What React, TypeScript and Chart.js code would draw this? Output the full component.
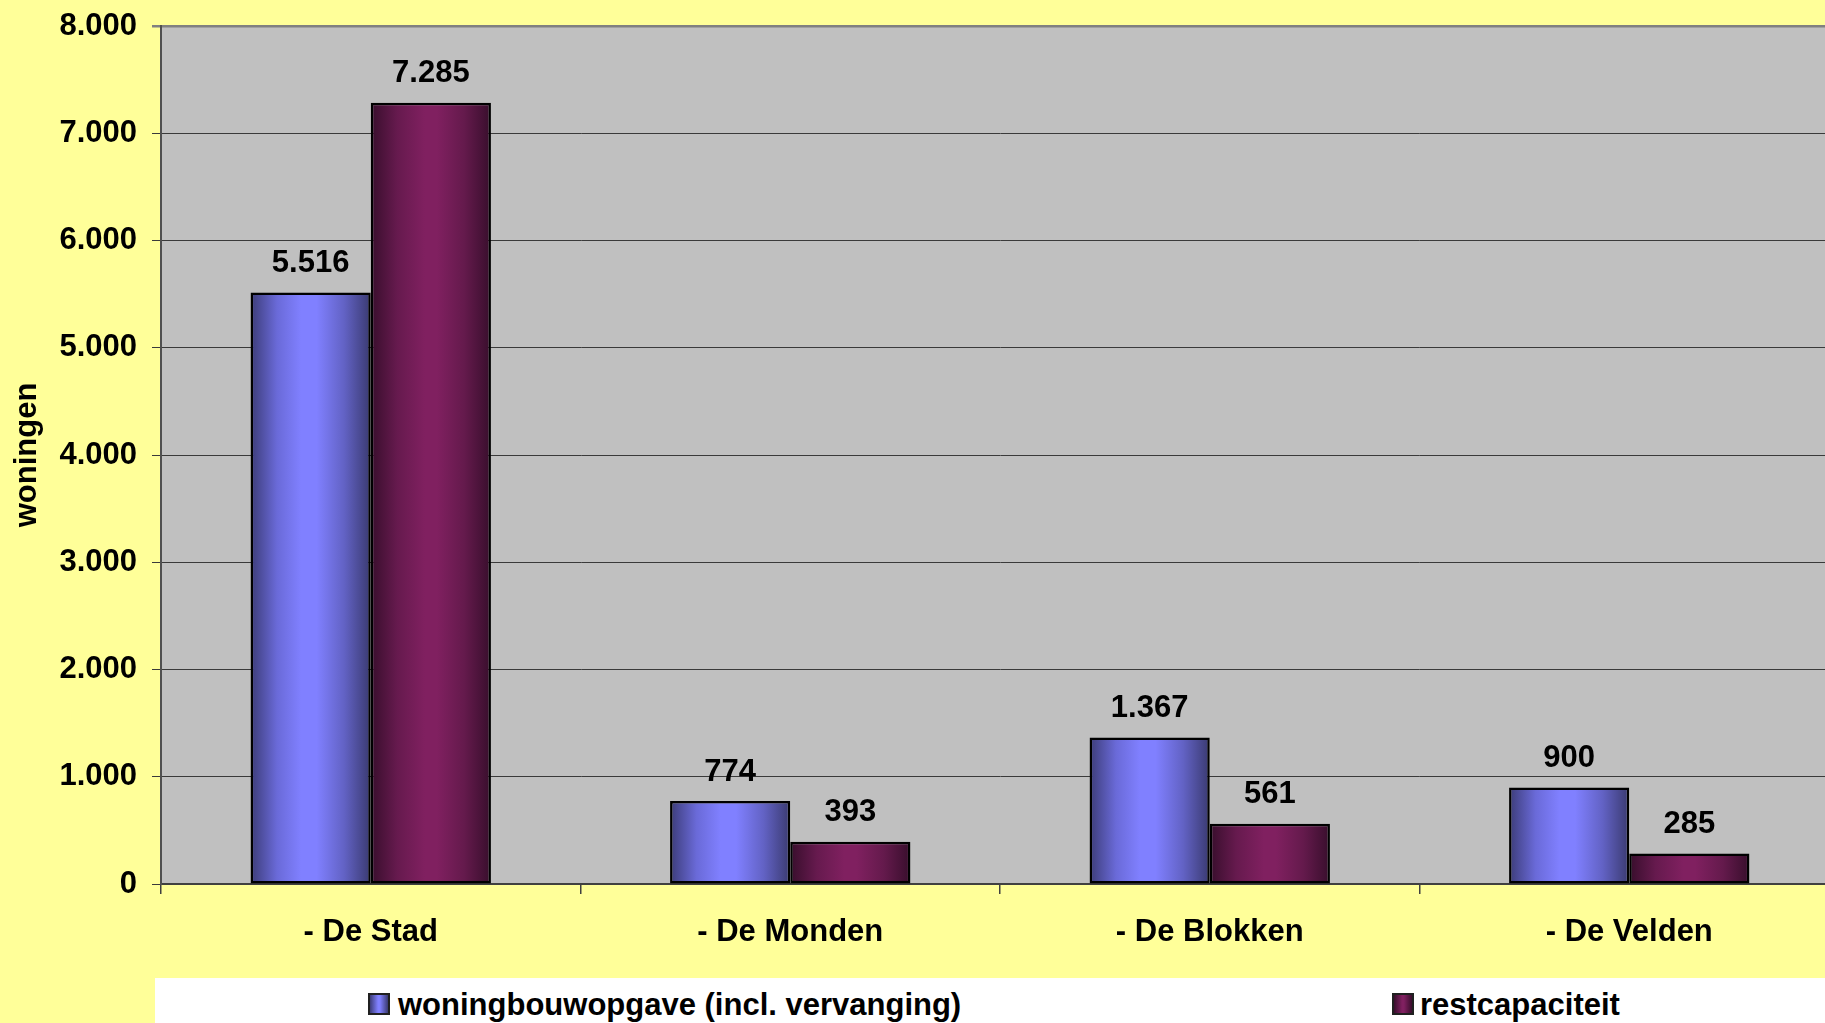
import React, { useEffect, useRef } from "react";
import { Chart, registerables } from "chart.js";

Chart.register(...registerables);

const categories = ["- De Stad", "- De Monden", "- De Blokken", "- De Velden"];
const woningbouwopgave = [5516, 774, 1367, 900];
const restcapaciteit = [7285, 393, 561, 285];
const seriesNames = ["woningbouwopgave (incl. vervanging)", "restcapaciteit"];
const yTicks = [0, 1000, 2000, 3000, 4000, 5000, 6000, 7000, 8000];
const yTitle = "woningen";

const FONT = "'Liberation Sans', Arial, sans-serif";
const CAT_PCT = 0.573;
const CANVAS_W = 1845;
const CANVAS_H = 978;
const PLOT_TOP = 26;
const PLOT_BOTTOM = 884;

const blueStops: [number, string][] = [
  [0, "#3c3c78"],
  [0.22, "#6a6ad8"],
  [0.42, "#8080ff"],
  [0.55, "#8080ff"],
  [0.78, "#6262c4"],
  [1, "#3a3a70"],
];
const purpleStops: [number, string][] = [
  [0, "#380e2c"],
  [0.22, "#661a4e"],
  [0.45, "#802060"],
  [0.55, "#802060"],
  [0.78, "#641a4c"],
  [1, "#380e2c"],
];

const fmt = (v: number) =>
  Math.round(v).toString().replace(/\B(?=(\d{3})+(?!\d))/g, ".");

const makeGrad = (stops: [number, string][]) => (ctx: any) => {
  const chart = ctx.chart;
  const xs = chart.scales && chart.scales.x;
  if (!xs || ctx.type !== "data" || !xs.width) return stops[2][1];
  const cat = xs.width / categories.length;
  const total = cat * CAT_PCT;
  const w = total / 2;
  const center = xs.getPixelForValue(ctx.dataIndex);
  const left = center - total / 2 + ctx.datasetIndex * w;
  const g = chart.ctx.createLinearGradient(left, 0, left + w, 0);
  stops.forEach(([o, c]) => g.addColorStop(o, c));
  return g;
};

const plotBg = {
  id: "plotBg",
  beforeDraw(chart: any) {
    const { ctx, chartArea } = chart;
    ctx.save();
    ctx.fillStyle = "#c0c0c0";
    ctx.fillRect(
      chartArea.left,
      chartArea.top,
      chartArea.right - chartArea.left,
      chartArea.bottom - chartArea.top
    );
    ctx.restore();
  },
};

const dataLabels = {
  id: "dataLabels",
  afterDatasetsDraw(chart: any) {
    const { ctx } = chart;
    ctx.save();
    ctx.font = `bold 31px ${FONT}`;
    ctx.fillStyle = "#000";
    ctx.textAlign = "center";
    ctx.textBaseline = "middle";
    chart.data.datasets.forEach((ds: any, di: number) => {
      const meta = chart.getDatasetMeta(di);
      meta.data.forEach((bar: any, i: number) => {
        ctx.fillText(fmt(ds.data[i]), bar.x, bar.y - 29);
      });
    });
    ctx.restore();
  },
};

export default function App() {
  const ref = useRef<HTMLCanvasElement | null>(null);

  useEffect(() => {
    if (!ref.current) return;
    const chart = new Chart(ref.current, {
      type: "bar",
      data: {
        labels: categories,
        datasets: [
          {
            label: seriesNames[0],
            data: woningbouwopgave,
            backgroundColor: makeGrad(blueStops),
            borderColor: "#000",
            borderWidth: 2.5,
            borderSkipped: false,
            categoryPercentage: CAT_PCT,
            barPercentage: 1,
          },
          {
            label: seriesNames[1],
            data: restcapaciteit,
            backgroundColor: makeGrad(purpleStops),
            borderColor: "#000",
            borderWidth: 2.5,
            borderSkipped: false,
            categoryPercentage: CAT_PCT,
            barPercentage: 1,
          },
        ],
      },
      options: {
        responsive: false,
        animation: false,
        devicePixelRatio: 1,
        events: [],
        layout: { padding: { left: 0, top: PLOT_TOP, right: CANVAS_W - 1839, bottom: 0 } },
        plugins: {
          legend: { display: false },
          tooltip: { enabled: false },
        },
        scales: {
          x: {
            type: "category",
            offset: true,
            grid: {
              offset: true,
              drawOnChartArea: false,
              drawTicks: true,
              tickLength: 10,
              color: "#404040",
              lineWidth: 1.5,
            },
            border: { display: true, color: "#404040", width: 2 },
            ticks: {
              color: "#000",
              font: { family: FONT, size: 31, weight: "bold", lineHeight: 1.2 },
              padding: 20,
              maxRotation: 0,
              autoSkip: false,
            },
            afterFit(scale: any) {
              scale.height = CANVAS_H - PLOT_BOTTOM;
              scale.paddingLeft = 0;
              scale.paddingRight = 0;
            },
          },
          y: {
            min: 0,
            max: 8000,
            afterBuildTicks(scale: any) {
              scale.ticks = yTicks.map((v) => ({ value: v }));
            },
            grid: {
              color: (c: any) => (c.tick && c.tick.value === 8000 ? "#808080" : "#3a3a3a"),
              lineWidth: (c: any) => (c.tick && c.tick.value === 8000 ? 2.5 : 1),
              tickLength: 9,
              drawTicks: true,
            },
            border: { display: true, color: "#505050", width: 2 },
            ticks: {
              color: "#000",
              font: { family: FONT, size: 31, weight: "bold", lineHeight: 1.2 },
              padding: 15,
              callback: (v: any) => fmt(Number(v)),
            },
            title: {
              display: true,
              text: yTitle,
              color: "#000",
              font: { family: FONT, size: 31, weight: "bold", lineHeight: 1.2 },
              padding: { top: 9, bottom: 0 },
            },
            afterFit(scale: any) {
              scale.width = 161;
              scale.paddingTop = 0;
              scale.paddingBottom = 0;
            },
          },
        },
      },
      plugins: [plotBg, dataLabels],
    });
    return () => chart.destroy();
  }, []);

  const legendText: React.CSSProperties = {
    position: "absolute",
    top: 989,
    font: `bold 31px ${FONT}`,
    lineHeight: "31px",
    color: "#000",
    whiteSpace: "nowrap",
  };
  const boxBase: React.CSSProperties = {
    position: "absolute",
    top: 993,
    width: 18,
    height: 18,
    border: "2px solid #202020",
  };

  return (
    <div
      style={{
        position: "fixed",
        left: 0,
        top: 0,
        width: 1825,
        height: 1023,
        overflow: "hidden",
        background: "#ffff99",
      }}
    >
      <canvas
        ref={ref}
        width={CANVAS_W}
        height={CANVAS_H}
        style={{ position: "absolute", left: 0, top: 0, width: CANVAS_W, height: CANVAS_H, display: "block" }}
      />
      <div
        style={{
          position: "absolute",
          left: 155,
          top: 978,
          width: 1825 - 155,
          height: 1023 - 978,
          background: "#ffffff",
        }}
      />
      <div
        style={{
          ...boxBase,
          left: 368,
          background: "linear-gradient(to right, #3c3c78, #8080ff 45%, #8080ff 55%, #3a3a70)",
        }}
      />
      <div style={{ ...legendText, left: 398 }}>{seriesNames[0]}</div>
      <div
        style={{
          ...boxBase,
          left: 1392,
          background: "linear-gradient(to right, #380e2c, #802060 45%, #802060 55%, #380e2c)",
        }}
      />
      <div style={{ ...legendText, left: 1420 }}>{seriesNames[1]}</div>
    </div>
  );
}
